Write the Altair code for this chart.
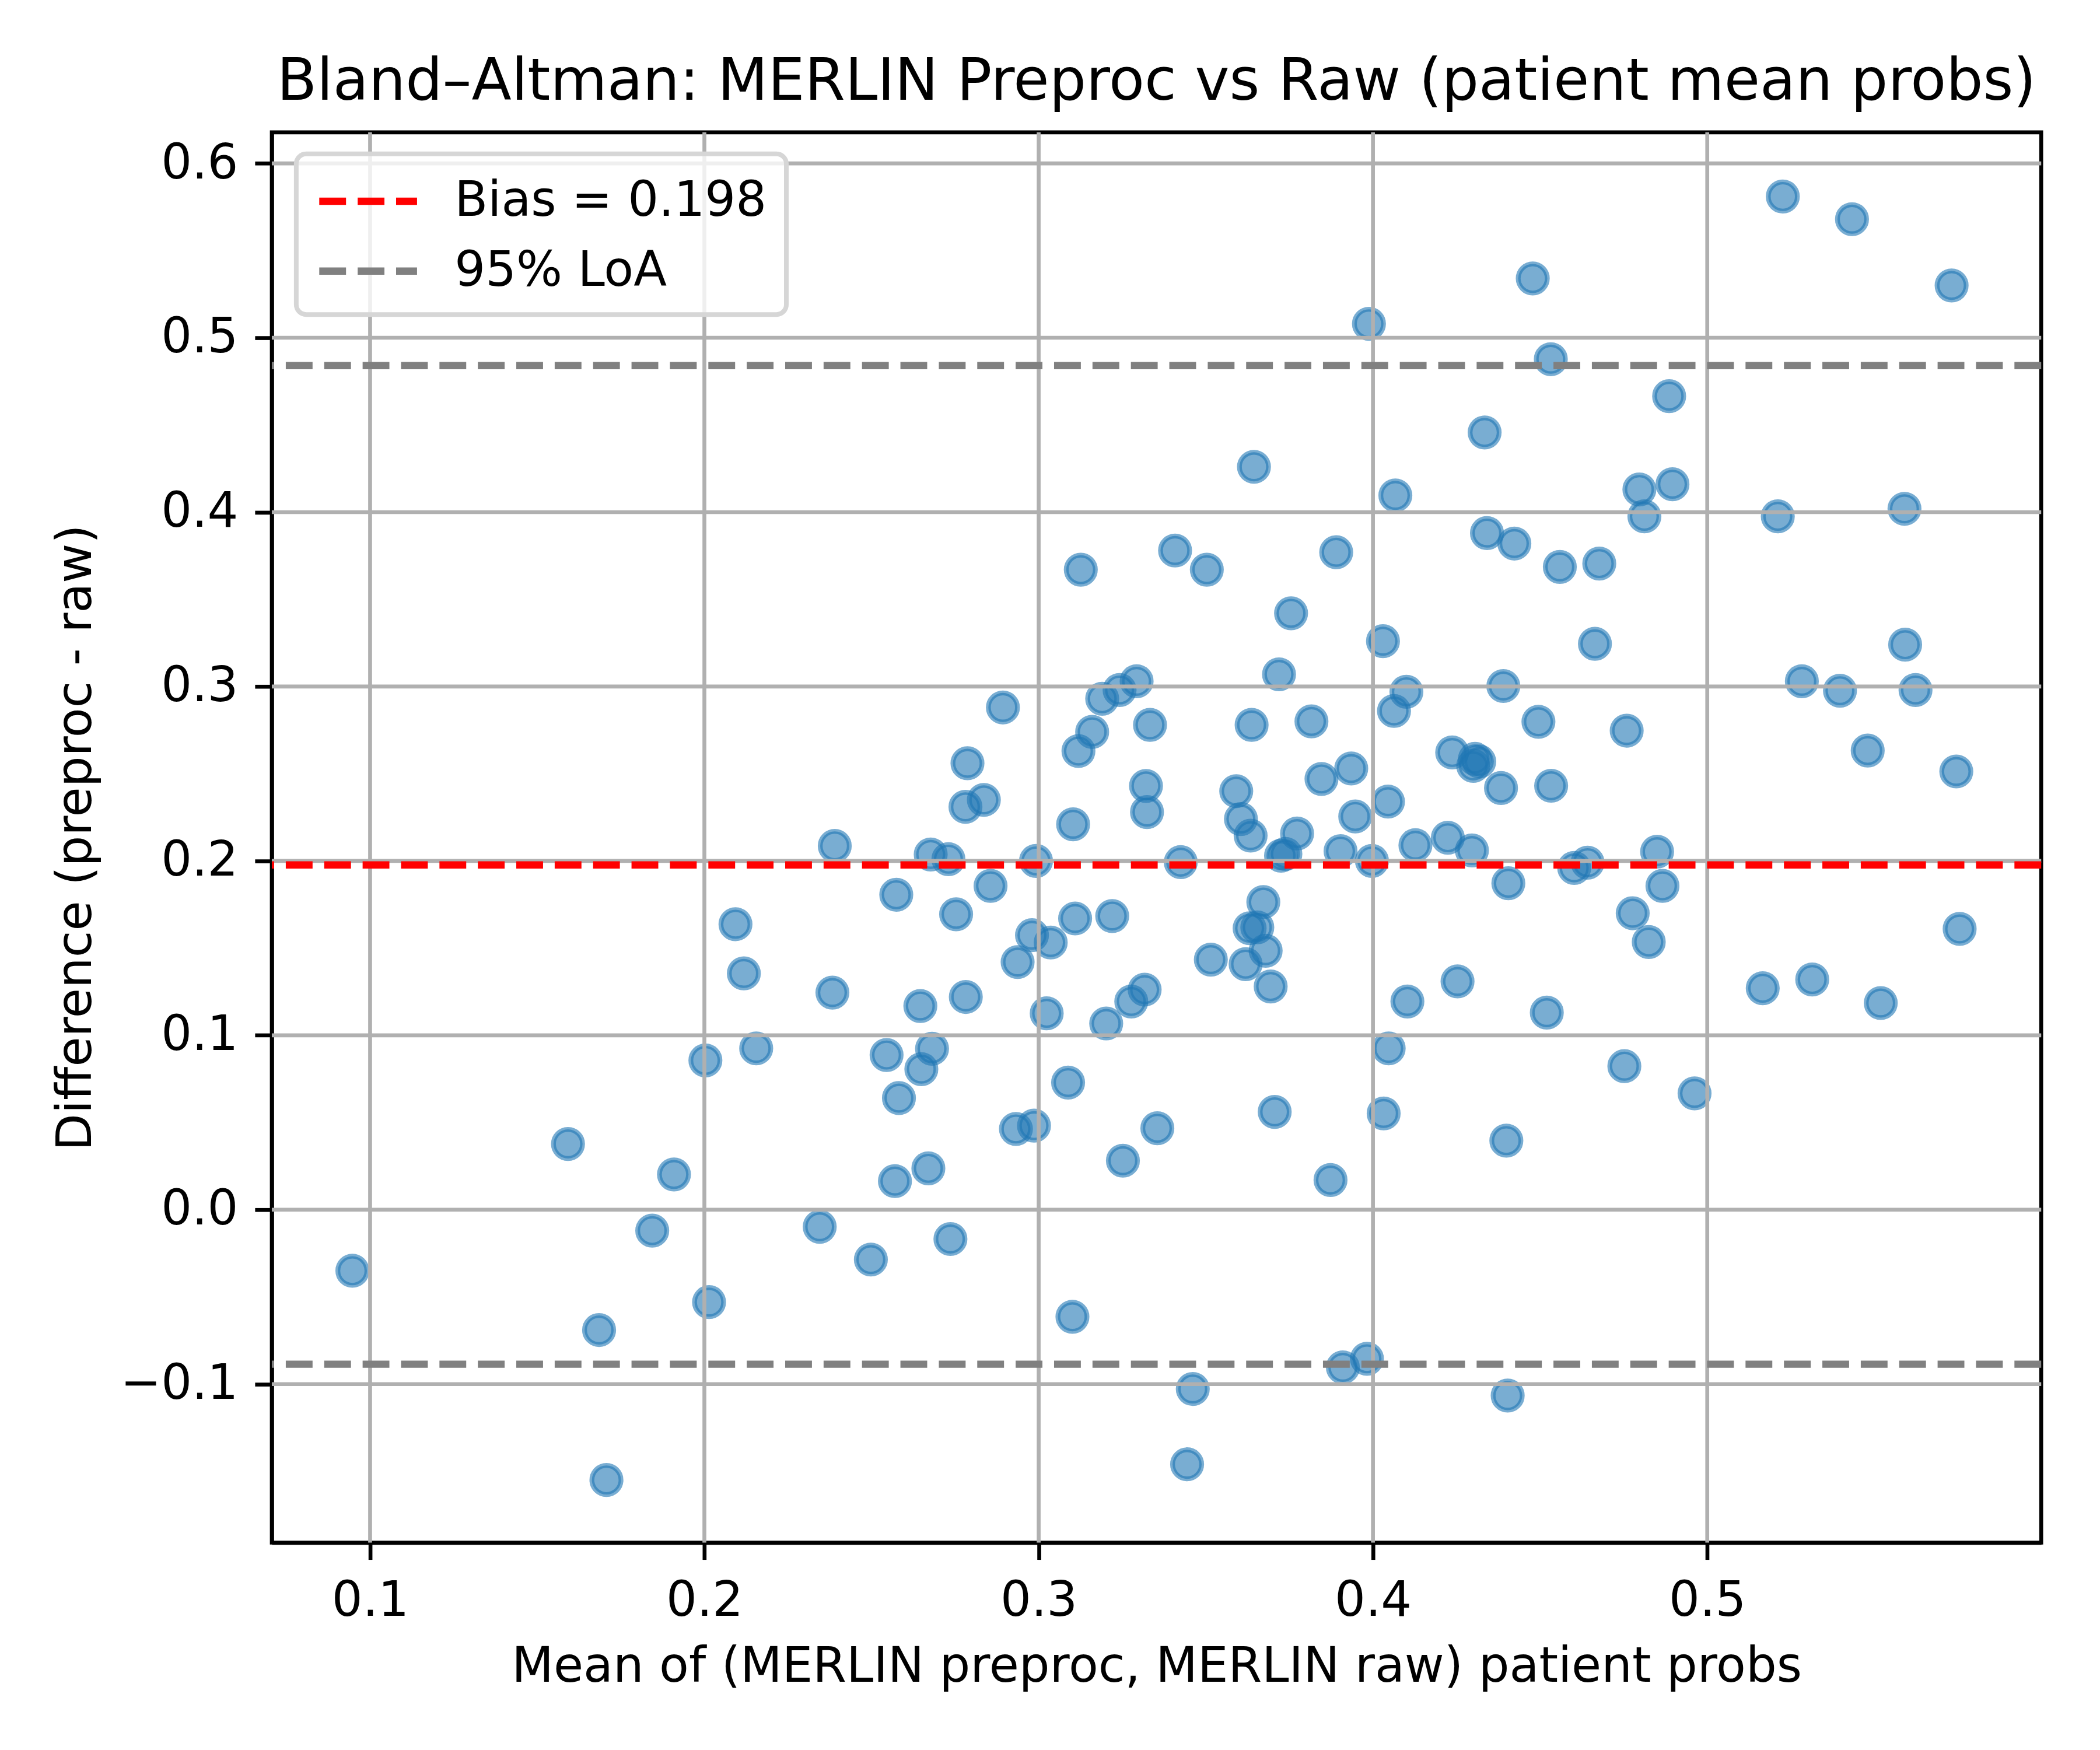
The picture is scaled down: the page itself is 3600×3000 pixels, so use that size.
import altair as alt
import pandas as pd

# ---- data ----
mean_vals = [
    0.0947, 0.1592, 0.1685, 0.1707, 0.1844, 0.1909, 0.2003, 0.2014, 0.2093, 0.2118,
    0.2155, 0.2345, 0.2383, 0.2390, 0.2498, 0.2545, 0.2574, 0.2570, 0.2582, 0.2649,
    0.2646, 0.2670, 0.2677, 0.2681, 0.2730, 0.2736, 0.2753, 0.2781, 0.2787, 0.2782,
    0.2836, 0.2856, 0.2893, 0.2932, 0.2937, 0.2980, 0.2986, 0.2992, 0.3024, 0.3036,
    0.3088, 0.3103, 0.3101, 0.3109, 0.3119, 0.3126, 0.3160, 0.3190, 0.3202, 0.3220,
    0.3242, 0.3252, 0.3277, 0.3293, 0.3317, 0.3321, 0.3324, 0.3333, 0.3355, 0.3408,
    0.3425, 0.3444, 0.3461, 0.3503, 0.3515, 0.3591, 0.3605, 0.3619, 0.3631, 0.3634,
    0.3637, 0.3644, 0.3654, 0.3672, 0.3679, 0.3694, 0.3706, 0.3719, 0.3725, 0.3738,
    0.3755, 0.3773, 0.3816, 0.3846, 0.3873, 0.3890, 0.3903, 0.3910, 0.3935, 0.3947,
    0.3982, 0.3988, 0.3997, 0.4030, 0.4032, 0.4045, 0.4047, 0.4063, 0.4067, 0.4100,
    0.4103, 0.4127, 0.4224, 0.4237, 0.4253, 0.4296, 0.4300, 0.4305, 0.4318, 0.4334,
    0.4341, 0.4383, 0.4390, 0.4399, 0.4403, 0.4405, 0.4423, 0.4478, 0.4495, 0.4520,
    0.4532, 0.4533, 0.4559, 0.4602, 0.4642, 0.4664, 0.4677, 0.4752, 0.4759, 0.4777,
    0.4797, 0.4812, 0.4825, 0.4850, 0.4866, 0.4886, 0.4896, 0.4962, 0.5166, 0.5211,
    0.5226, 0.5283, 0.5314, 0.5397, 0.5433, 0.5480, 0.5519, 0.5590, 0.5592, 0.5623,
    0.5731, 0.5745, 0.5755,
]
diff_vals = [
    -0.0350, 0.0377, -0.0690, -0.1550, -0.0120, 0.0202, 0.0856, -0.0530, 0.1637, 0.1355,
    0.0925, -0.0098, 0.1245, 0.2086, -0.0286, 0.0887, 0.1806, 0.0164, 0.0640, 0.0806,
    0.1168, 0.0237, 0.2037, 0.0923, 0.2010, -0.0168, 0.1694, 0.2310, 0.2560, 0.1220,
    0.2350, 0.1857, 0.2880, 0.0463, 0.1420, 0.1574, 0.0482, 0.2000, 0.1126, 0.1532,
    0.0729, 0.2210, -0.0614, 0.1670, 0.2630, 0.3670, 0.2740, 0.2930, 0.1068, 0.1684,
    0.2980, 0.0281, 0.1194, 0.3030, 0.1262, 0.2430, 0.2280, 0.2780, 0.0467, 0.3780,
    0.1993, -0.1460, -0.1028, 0.3670, 0.1434, 0.2400, 0.2240, 0.1408, 0.1614, 0.2145,
    0.2780, 0.4260, 0.1619, 0.1764, 0.1485, 0.1280, 0.0561, 0.3070, 0.2030, 0.2040,
    0.3420, 0.2157, 0.2800, 0.2470, 0.0170, 0.3770, 0.2056, -0.0904, 0.2530, 0.2255,
    -0.0855, 0.5080, 0.2000, 0.3260, 0.0552, 0.2340, 0.0925, 0.2860, 0.4096, 0.2970,
    0.1194, 0.2090, 0.2133, 0.2622, 0.1309, 0.2060, 0.2545, 0.2585, 0.2570, 0.4457,
    0.3880, 0.2418, 0.3003, 0.0396, -0.1066, 0.1872, 0.3820, 0.5340, 0.2798, 0.1130,
    0.4877, 0.2431, 0.3686, 0.1960, 0.1990, 0.3245, 0.3705, 0.0823, 0.2747, 0.1700,
    0.4130, 0.3976, 0.1535, 0.2053, 0.1857, 0.4665, 0.4160, 0.0667, 0.1270, 0.3976,
    0.5810, 0.3030, 0.1320, 0.2976, 0.5680, 0.2633, 0.1185, 0.4019, 0.3240, 0.2980,
    0.5300, 0.2513, 0.1610,
]

bias_value = 0.1977
loa_upper = 0.4840
loa_lower = -0.0886
line_labels = ["Bias = 0.198", "95% LoA", "95% LoA"]
line_values = [bias_value, loa_upper, loa_lower]
legend_order = ["Bias = 0.198", "95% LoA"]
legend_colors = ["#ff0000", "#808080"]

x_ticks = [0.1, 0.2, 0.3, 0.4, 0.5]
y_ticks = [-0.1, 0.0, 0.1, 0.2, 0.3, 0.4, 0.5, 0.6]
x_domain = [0.0706, 0.5999]
y_domain = [-0.1909, 0.6178]

title_text = "Bland\u2013Altman: MERLIN Preproc vs Raw (patient mean probs)"
x_title = "Mean of (MERLIN preproc, MERLIN raw) patient probs"
y_title = "Difference (preproc - raw)"

# ---- styling (600 dpi: 1 pt = 8.333 px) ----
FONT = "DejaVu Sans"
PT = 600 / 72.0
W, H = 3040, 2423
SYM = 84  # legend symbol "size" unit (half of the 168 px handle)
GRID = "#b0b0b0"

pts = pd.DataFrame({"mean": mean_vals, "diff": diff_vals})
lines = pd.DataFrame({"label": line_labels, "value": line_values})
xgrid = pd.DataFrame({"mean": x_ticks})
ygrid = pd.DataFrame({"diff": y_ticks})

xscale = alt.Scale(domain=x_domain, nice=False, zero=False)
yscale = alt.Scale(domain=y_domain, nice=False, zero=False)

x_axis = alt.Axis(
    values=x_ticks, format=".1f", title=x_title, grid=False,
    labelBaseline="alphabetic", labelPadding=96, labelFlush=False, labelOverlap=False,
    labelLimit=1000,
    titleX=W / 2, titleY=239, titleBaseline="alphabetic", titleAlign="center",
    titleLimit=4000,
)
y_axis = alt.Axis(
    values=y_ticks, format=".1f", title=y_title, grid=False,
    labelExpr="replace(datum.label, '-', '\u2212')",
    labelBaseline="middle", labelAlign="right", labelPadding=29,
    labelFlush=False, labelOverlap=False, labelLimit=1000,
    titleX=-311, titleY=H / 2, titleAngle=270, titleBaseline="alphabetic",
    titleAlign="center", titleLimit=4000,
)

# scatter (matplotlib zorder 1)
points = alt.Chart(pts).mark_circle(
    size=(6 * PT) ** 2, color="#1f77b4", opacity=1,
    fillOpacity=0.6, stroke="#1f77b4", strokeOpacity=0.6, strokeWidth=1.0 * PT,
).encode(
    x=alt.X("mean:Q", scale=xscale, axis=x_axis),
    y=alt.Y("diff:Q", scale=yscale, axis=y_axis),
)

# grid lines at the tick values (matplotlib draws them above the scatter)
grid_x = alt.Chart(xgrid).mark_rule(color=GRID, strokeWidth=0.8 * PT).encode(
    x=alt.X("mean:Q", scale=xscale, axis=x_axis),
)
grid_y = alt.Chart(ygrid).mark_rule(color=GRID, strokeWidth=0.8 * PT).encode(
    y=alt.Y("diff:Q", scale=yscale, axis=y_axis),
)

# bias and limits of agreement
rules = alt.Chart(lines).mark_rule(
    strokeDash=[46, 20], strokeWidth=1.5 * PT,
).encode(
    y=alt.Y("value:Q", scale=yscale, axis=y_axis),
    color=alt.Color(
        "label:N",
        scale=alt.Scale(domain=legend_order, range=legend_colors),
        legend=alt.Legend(
            title=None, orient="none", legendX=42, legendY=37,
            symbolType="M-2,0L2,0", symbolSize=SYM ** 2, symbolStrokeWidth=1.5 * PT,
            symbolDash=[46, 20], symbolFillColor="transparent",
            symbolOffset=SYM / 2,
            labelFont=FONT, labelFontSize=10 * PT,
            labelColor="black", labelOffset=100, rowPadding=30, padding=33,
            fillColor="rgba(255,255,255,0.8)", strokeColor="#d6d6d6",
            cornerRadius=17, labelLimit=2000,
        ),
    ),
)

chart = alt.layer(points, grid_x, grid_y, rules).properties(
    width=W, height=H,
    background="white",
    title=alt.Title(
        title_text, font=FONT, fontSize=12 * PT, fontWeight="normal",
        color="black", anchor="middle", frame="group", offset=-47,
        baseline="alphabetic", limit=4000,
    ),
    autosize=alt.AutoSizeParams(type="none"),
    padding={"left": 459, "top": 216, "right": 93, "bottom": 353},
).configure_axis(
    grid=False,
    labelFont=FONT, labelFontSize=10 * PT, labelColor="black",
    titleFont=FONT, titleFontSize=10 * PT, titleFontWeight="normal", titleColor="black",
    tickColor="black", tickWidth=0.8 * PT, tickSize=3.5 * PT,
    domainColor="black", domainWidth=0.8 * PT,
).configure_legend(
    strokeWidth=8,
).configure_view(
    stroke="black", strokeWidth=0.8 * PT,
)

chart.save("out.html", embed_options={"renderer": "svg", "actions": False})
